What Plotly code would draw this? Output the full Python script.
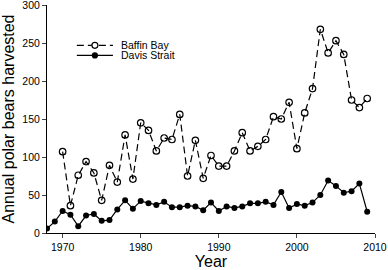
import plotly.graph_objects as go

years_bb = list(range(1970, 2010))
baffin_bay = [107, 36, 76, 94, 79, 43, 89, 67, 129, 71,
              145, 135, 108, 125, 123, 156, 75, 122, 72, 102,
              88, 88, 108, 132, 108, 114, 123, 153, 150, 172,
              111, 158, 190, 268, 237, 253, 235, 175, 165, 177]

years_ds = list(range(1968, 2010))
davis_strait = [6, 15, 29, 24, 9, 23, 25, 16, 17, 31,
                43, 32, 42, 39, 37, 41, 34, 34, 36, 35,
                30, 40, 29, 35, 33, 35, 39, 39, 41, 37,
                54, 33, 38, 36, 40, 50, 69, 62, 53, 55,
                65, 28]

series_names = ["Baffin Bay", "Davis Strait"]
x_ticks = [1970, 1980, 1990, 2000, 2010]
y_ticks = [0, 50, 100, 150, 200, 250, 300]

FONT = "Arial, Liberation Sans, sans-serif"
DASH = "7px,4px"
LW = 1.2

fig = go.Figure()
fig.add_trace(go.Scatter(
    x=years_bb, y=baffin_bay, name=series_names[0], mode="lines+markers",
    line=dict(color="black", width=LW, dash=DASH),
    marker=dict(symbol="circle-open", size=6.5, color="black", line=dict(width=1.2)),
))
fig.add_trace(go.Scatter(
    x=years_ds, y=davis_strait, name=series_names[1], mode="lines+markers",
    line=dict(color="black", width=LW),
    marker=dict(symbol="circle", size=6, color="black"),
))

# compact legend (tight rows as in the reference)
leg_x0, leg_x1, leg_xt = 0.091, 0.201, 0.222
leg_rows = [0.823, 0.779]
for i, name in enumerate(series_names):
    yy = leg_rows[i]
    fig.add_shape(type="line", xref="paper", yref="paper",
                  x0=leg_x0, x1=leg_x1, y0=yy, y1=yy,
                  line=dict(color="black", width=LW, dash=DASH if i == 0 else "solid"))
    xc = (leg_x0 + leg_x1) / 2
    r = 3 if i == 0 else 2.5
    fig.add_shape(type="circle", xref="paper", yref="paper",
                  xsizemode="pixel", ysizemode="pixel",
                  xanchor=xc, yanchor=yy, x0=-r, x1=r, y0=-r, y1=r,
                  fillcolor="white" if i == 0 else "black",
                  line=dict(color="black", width=1.2))
    fig.add_annotation(x=leg_xt, y=yy, xref="paper", yref="paper",
                       text=name, showarrow=False, xanchor="left", yanchor="middle",
                       borderpad=0,
                       font=dict(size=10.5, family=FONT, color="black"))

fig.update_layout(
    width=388, height=270,
    margin=dict(l=47, r=13, t=5, b=37),
    paper_bgcolor="white", plot_bgcolor="white",
    font=dict(family=FONT, color="black", size=10),
    showlegend=False,
)
fig.update_xaxes(
    range=[1968, 2010], tickvals=x_ticks, ticks="outside", ticklen=4,
    showline=True, linecolor="black", linewidth=1, showgrid=False, zeroline=False,
    automargin=False, ticklabeloverflow="allow",
    title=dict(text="Year", font=dict(size=16, family=FONT), standoff=4),
    tickfont=dict(size=10.5),
)
fig.update_yaxes(
    range=[0, 300], tickvals=y_ticks, ticks="outside", ticklen=4,
    showline=True, linecolor="black", linewidth=1, showgrid=False, zeroline=False,
    automargin=False, ticklabeloverflow="allow",
    title=dict(text="Annual polar bears harvested", font=dict(size=16, family=FONT), standoff=4),
    tickfont=dict(size=10.5),
)

fig.write_html("out.html", config={"displayModeBar": False},
               post_script="document.body.style.margin='0';")
